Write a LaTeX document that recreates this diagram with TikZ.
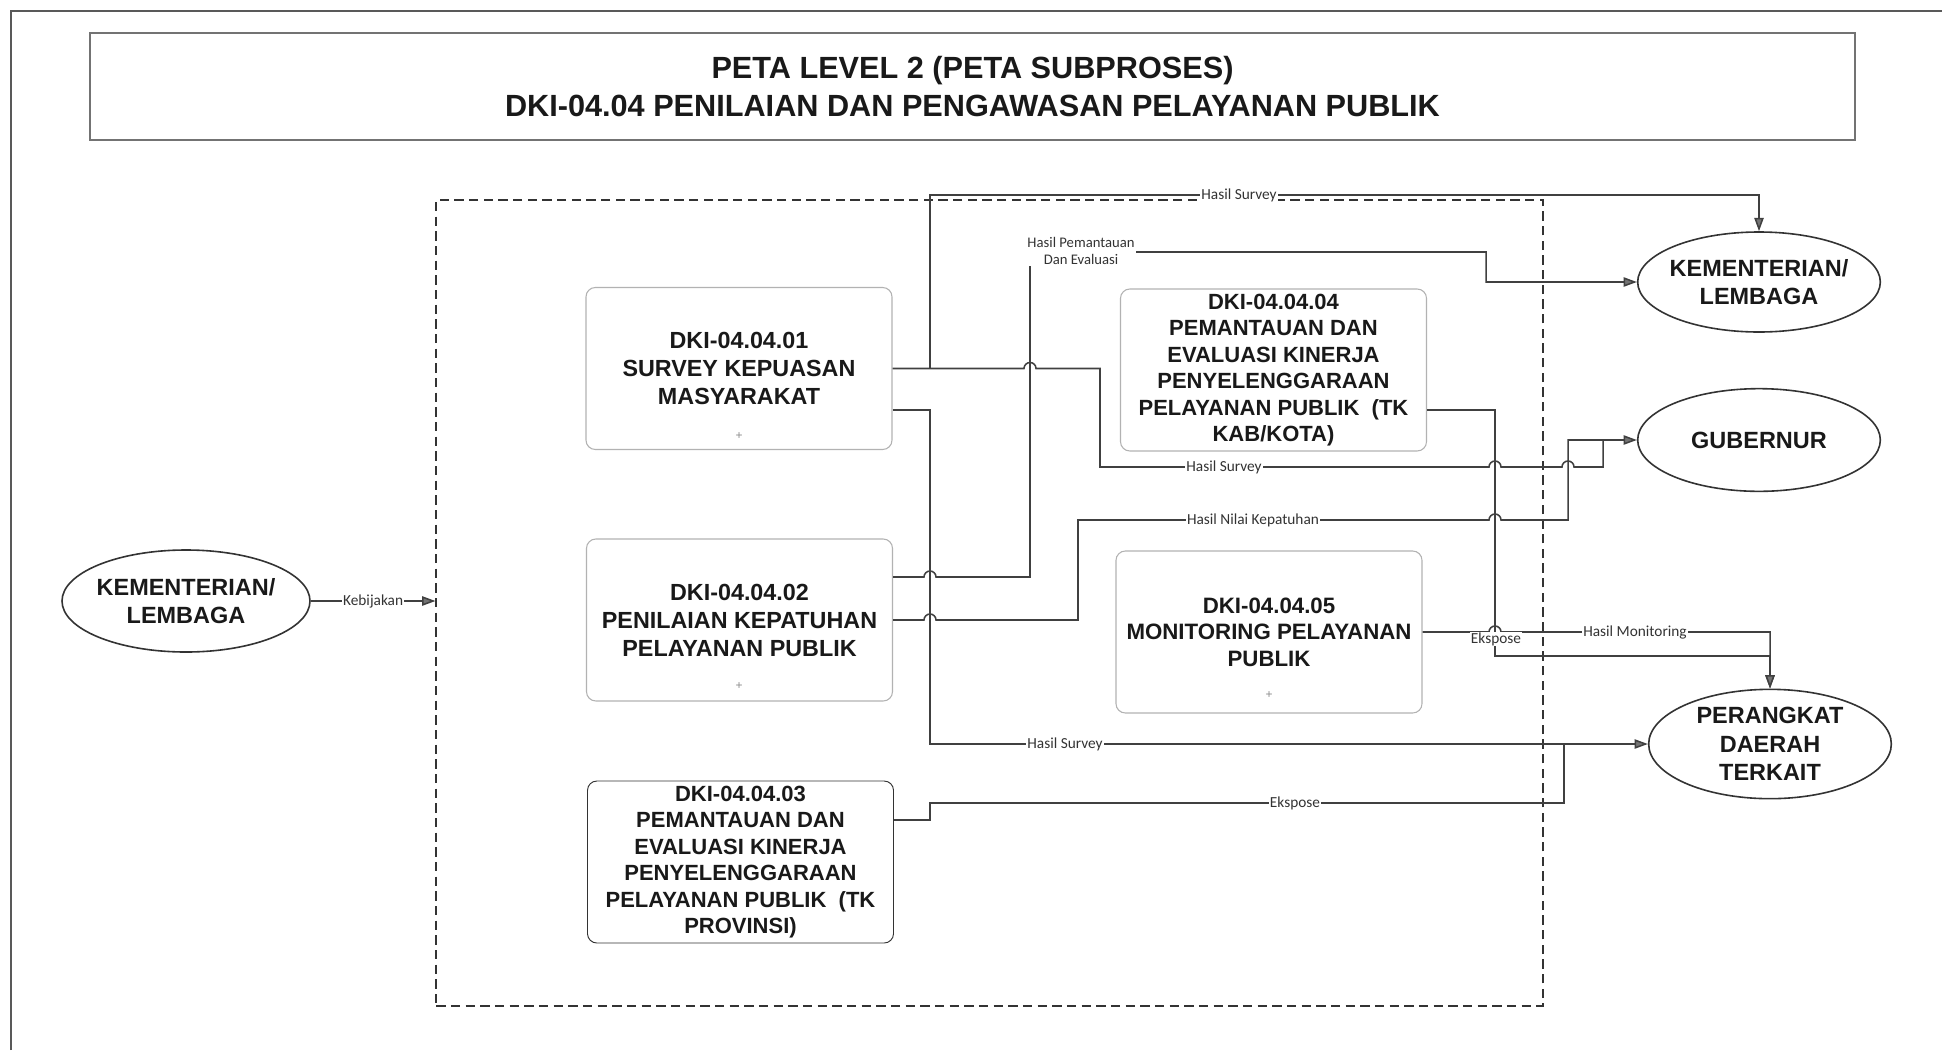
\documentclass[tikz,border=0pt]{standalone}
\usepackage{fontspec}
\setmainfont{Liberation Sans}
\newfontfamily\labelfont{Carlito}
\usetikzlibrary{arrows.meta,shapes.geometric}

\tikzset{every picture/.style={line width=0.75pt}}
\tikzset{
	procbox/.style={draw=black!30, rounded corners=7pt, line width=0.8pt, minimum width=229.5pt, minimum height=121.5pt, inner sep=2pt, align=center, text=black!90, font=\fontsize{17.5}{21}\selectfont\bfseries},
	party/.style={ellipse, draw=black!80, line width=1.2pt, minimum width=182pt, minimum height=75pt, inner sep=0pt},
	partytext/.style={align=center, inner sep=0pt, text=black!90, font=\fontsize{17.6}{21.4}\selectfont\bfseries},
	flow/.style={draw=black!75, line width=1.15pt},
	tip/.style={-{Triangle[length=10pt,width=7pt,fill=black!55]}},
	lbl/.style={fill=white, inner sep=1pt, text=black!80, font=\labelfont\fontsize{11.5}{13}\selectfont},
	submark/.style={text=black!45, inner sep=0pt, font=\fontsize{9}{9}\selectfont}
}

\begin{document}
\begin{tikzpicture}[x=0.75pt,y=0.75pt,yscale=-1,xscale=1]
	\useasboundingbox (0,0) rectangle (1942,1050);

	%Frame
	\draw [black!65, line width=1.2pt] (11,1050) -- (11,11) -- (1942,11) ;
	% Title
	\node (title) [draw=black!55, line width=1.3pt, minimum width=1324pt, minimum height=80pt, align=center, text=black!90, font=\fontsize{23}{29}\selectfont\bfseries] at (972.5,86.5) {PETA LEVEL 2 (PETA SUBPROSES)\\DKI-04.04 PENILAIAN DAN PENGAWASAN PELAYANAN PUBLIK};

	%Sub process frame
	\node (subproses) [draw=black!80, line width=1.1pt, dash pattern=on 7pt off 4pt, minimum width=830pt, minimum height=604.5pt, inner sep=0pt] at (989.5,603) {};

	%Process boxes
	\node (b01) [procbox] at (739,368.5) {DKI-04.04.01\\SURVEY KEPUASAN\\MASYARAKAT};
	\node (b02) [procbox] at (739.5,620) {DKI-04.04.02\\PENILAIAN KEPATUHAN\\PELAYANAN PUBLIK};
	\node (b03) [procbox, draw=black!80, line width=0.7pt, font=\fontsize{16.5}{19.8}\selectfont\bfseries] at (740.5,862) {DKI-04.04.03\\PEMANTAUAN DAN\\EVALUASI KINERJA\\PENYELENGGARAAN\\PELAYANAN PUBLIK~ (TK\\PROVINSI)};
	\node (b04) [procbox, font=\fontsize{16.5}{19.8}\selectfont\bfseries] at (1273.5,370) {DKI-04.04.04\\PEMANTAUAN DAN\\EVALUASI KINERJA\\PENYELENGGARAAN\\PELAYANAN PUBLIK~ (TK\\KAB/KOTA)};
	\node (b05) [procbox, font=\fontsize{16.7}{20}\selectfont\bfseries] at (1269,632) {DKI-04.04.05\\MONITORING PELAYANAN\\PUBLIK};
	\node (m01) [submark] at (739,436) {+};
	\node (m02) [submark] at (739,686) {+};
	\node (m05) [submark] at (1269,695) {+};

	%Parties
	\node (kl1) [party, minimum width=186pt, minimum height=76.5pt, label={[partytext]center:KEMENTERIAN/\\LEMBAGA}] at (186,601) {};
	\node (kl2) [party, label={[partytext]center:KEMENTERIAN/\\LEMBAGA}] at (1759,282) {};
	\node (gub) [party, minimum height=77pt, label={[partytext]center:GUBERNUR}] at (1759,440) {};
	\node (pd) [party, minimum height=82pt, label={[partytext]center:PERANGKAT\\DAERAH\\TERKAIT}] at (1770,744) {};

	%Kebijakan
	\draw [flow, tip] (kl1.east) -- (subproses.west |- kl1.east) node [lbl, midway] {Kebijakan};

	%Hasil Survey (01)
	\draw [flow, tip] (b01.east) -| (930,195) -| (kl2.north) ;
	\draw [flow] (b01.east) -- (1024,368.5) arc [start angle=180, end angle=360, radius=6] -- (1100,368.5) -- (1100,467) -- (1489,467) arc [start angle=180, end angle=360, radius=6] -- (1562,467) arc [start angle=180, end angle=360, radius=6] -- (1603,467) -- (1603,440) ;
	\draw [flow, tip] (b01.east |- 0,410) -- (930,410) |- (pd.west) ;

	%Hasil Pemantauan (02)
	\draw [flow, tip] (b02.east |- 0,577) -- (924,577) arc [start angle=180, end angle=360, radius=6] -- (1030,577) -- (1030,252) -- (1486,252) |- (kl2.west) ;
	%Hasil Nilai Kepatuhan (02)
	\draw [flow, tip] (b02.east) -- (924,620) arc [start angle=180, end angle=360, radius=6] -- (1078,620) -- (1078,520) -- (1489,520) arc [start angle=180, end angle=360, radius=6] -- (1568,520) |- (gub.west) ;

	%Ekspose (03)
	\draw [flow] (b03.east |- 0,820) -- (930,820) -- (930,803) -- (1564,803) -- (1564,744) ;
	%Ekspose (04)
	\draw [flow, tip] (b04.east |- 0,410) -- (1495,410) -- (1495,656) -| (pd.north) ;
	%Hasil Monitoring (05)
	\draw [flow, tip] (b05.east) -- (1489,632) arc [start angle=180, end angle=360, radius=6] -| (pd.north) ;

	% Text Node
	\node (l1) [lbl] at (1239,195) {Hasil Survey};
	\node (l2) [lbl] at (1224,467) {Hasil Survey};
	\node (l3) [lbl] at (1065,744) {Hasil Survey};
	\node (l4) [lbl, align=center, font=\labelfont\fontsize{11}{13}\selectfont] at (1081,251) {Hasil Pemantauan\\Dan Evaluasi};
	\node (l5) [lbl] at (1253,520) {Hasil Nilai Kepatuhan};
	\node (l6) [lbl] at (1295,803) {Ekspose};
	\node (l7) [lbl, inner sep=0.5pt] at (1496,639) {Ekspose};
	\node (l8) [lbl] at (1635,632) {Hasil Monitoring};

\end{tikzpicture}
\end{document}
